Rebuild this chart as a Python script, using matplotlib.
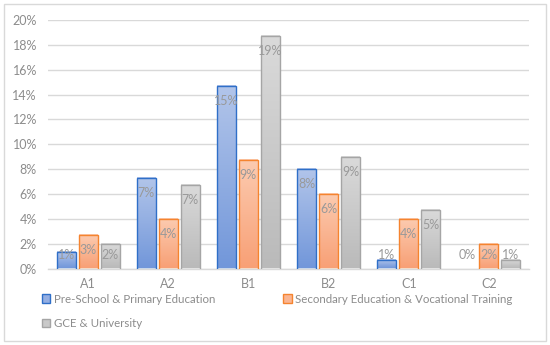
import matplotlib
matplotlib.use("Agg")
import matplotlib.pyplot as plt
import numpy as np
from matplotlib.patches import Rectangle
from matplotlib.colors import LinearSegmentedColormap

categories = ["A1", "A2", "B1", "B2", "C1", "C2"]
series_names = ["Pre-School & Primary Education",
                "Secondary Education & Vocational Training",
                "GCE & University"]
preschool = [1.3, 7.3, 14.7, 8.0, 0.7, 0.0]
secondary = [2.7, 4.0, 8.7, 6.0, 4.0, 2.0]
gce = [2.0, 6.7, 18.7, 9.0, 4.7, 0.7]
yticks = [0, 2, 4, 6, 8, 10, 12, 14, 16, 18, 20]

series = [preschool, secondary, gce]
edges = ["#2F6FC8", "#F5842F", "#A5A5A5"]
grad_top = ["#B2C5EA", "#FCCBB0", "#DADADA"]
grad_bot = ["#7297DA", "#F8A076", "#BABABA"]
fills = ["#94AEE2", "#FAB592", "#C9C9C9"]
text_col = "#8C8C8C"
label_col = "#999999"
font = "Lato"
fs = 9

fig = plt.figure(figsize=(5.5, 3.45), dpi=100)
ax = fig.add_axes([48 / 550, 1 - 268.5 / 345, 481 / 550, 248.5 / 345])

width = 0.237
step = 0.274
x = np.arange(len(categories))
handles = []
for i, vals in enumerate(series):
    xs = x + (i - 1) * step
    ecs = [edges[i] if v > 0 else "none" for v in vals]
    bars = ax.bar(xs, vals, width=width, color="none", edgecolor=ecs,
                  linewidth=1.0, zorder=3)
    cmap = LinearSegmentedColormap.from_list("g%d" % i, [grad_bot[i], grad_top[i]])
    grad = np.linspace(0, 1, 64).reshape(-1, 1)
    for b, v in zip(bars, vals):
        x0 = b.get_x()
        if v > 0:
            ax.imshow(grad, cmap=cmap, origin="lower", aspect="auto",
                      extent=(x0, x0 + width, 0, v), zorder=2, interpolation="bilinear")
        ly = max(v - 1.2, 1.09)
        ax.text(x0 + width / 2, ly, "%d%%" % round(v + 1e-9), ha="center",
                va="center", color=label_col, fontsize=fs, family=font, zorder=4)
    handles.append(Rectangle((0, 0), 1, 1, facecolor=fills[i], edgecolor=edges[i], linewidth=1.0))

ax.set_xlim(-0.5, len(categories) - 0.5)
ax.set_ylim(0, 20)
ax.set_yticks(yticks)
ax.set_yticklabels(["%d%%" % t for t in yticks])
ax.set_xticks(x)
ax.set_xticklabels(categories)
ax.yaxis.grid(True, color="#D9D9D9", linewidth=1.0, zorder=0)
ax.set_axisbelow(True)
for s in ["top", "right", "left"]:
    ax.spines[s].set_visible(False)
ax.spines["bottom"].set_color("#D9D9D9")
ax.spines["bottom"].set_linewidth(1.0)
ax.tick_params(axis="both", length=0, labelcolor=text_col, labelsize=fs)
ax.tick_params(axis="y", pad=8)
ax.tick_params(axis="x", pad=7)
for lab in ax.get_xticklabels() + ax.get_yticklabels():
    lab.set_family(font)

order = [0, 2, 1]
leg_fs = 8.3
leg = fig.legend([handles[k] for k in order], [series_names[k] for k in order],
                 loc="upper left", ncol=2,
                 bbox_to_anchor=(37 / 550, 1 - 289 / 345), frameon=False,
                 prop={"family": font, "size": leg_fs}, labelcolor=text_col,
                 handlelength=0.75, handleheight=0.75, handletextpad=0.3,
                 columnspacing=5.9, labelspacing=1.15, borderaxespad=0)

fig.patches.append(Rectangle((4 / 550, 4 / 345), 542 / 550, 337 / 345,
                             transform=fig.transFigure, fill=False,
                             edgecolor="#D9D9D9", linewidth=1.0))
fig.savefig("out.png", dpi=100)
